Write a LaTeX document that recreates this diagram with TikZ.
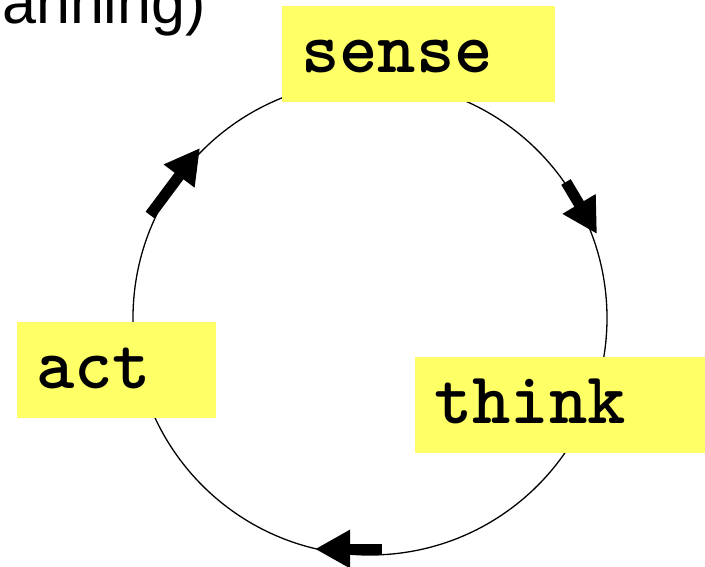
\documentclass[tikz,border=0pt]{standalone}
\usepackage{fontspec}
\setmainfont{Liberation Sans}
\setsansfont{Liberation Sans}
\usepackage{tikz}
\usetikzlibrary{arrows.meta,positioning}
\definecolor{boxyellow}{RGB}{255,255,102}

\begin{document}
\begin{tikzpicture}[x=1pt, y=-1pt,
    stagebox/.style={fill=boxyellow, anchor=north west, inner xsep=19pt, inner ysep=26pt, text height=40pt, text depth=4pt, align=left, font=\ttfamily\bfseries\fontsize{73}{80}\selectfont},
    ring/.style={draw, circle, line width=1.3pt, minimum size=474pt, inner sep=0pt},
    arrow/.style={-{Triangle[length=35pt,width=36pt]}, line width=11pt}
]
\useasboundingbox (0,0) rectangle (705,566);

\node[font=\sffamily\fontsize{61}{70}\selectfont, anchor=base west, inner sep=0pt] (title) at (2,23) {anning)};

\node[ring] (loop) at (370,318) {};

\node[stagebox, text width=235pt] (sense) at (282,6) {sense};
\node[stagebox, text width=253pt] (think) at (415,357) {think};
\node[stagebox, text width=161pt] (act) at (17,322) {act};

% arrows along the loop
\coordinate (senseIn) at (150,215);  \coordinate (senseTip) at (200,148);
\coordinate (thinkIn) at (566,182);  \coordinate (thinkTip) at (597,234);
\coordinate (actIn)   at (382,549);  \coordinate (actTip)   at (315,549);

\draw[arrow] (senseIn) -- (senseTip);
\draw[arrow] (thinkIn) -- (thinkTip);
\draw[arrow] (actIn) -- (actTip);
\end{tikzpicture}
\end{document}
